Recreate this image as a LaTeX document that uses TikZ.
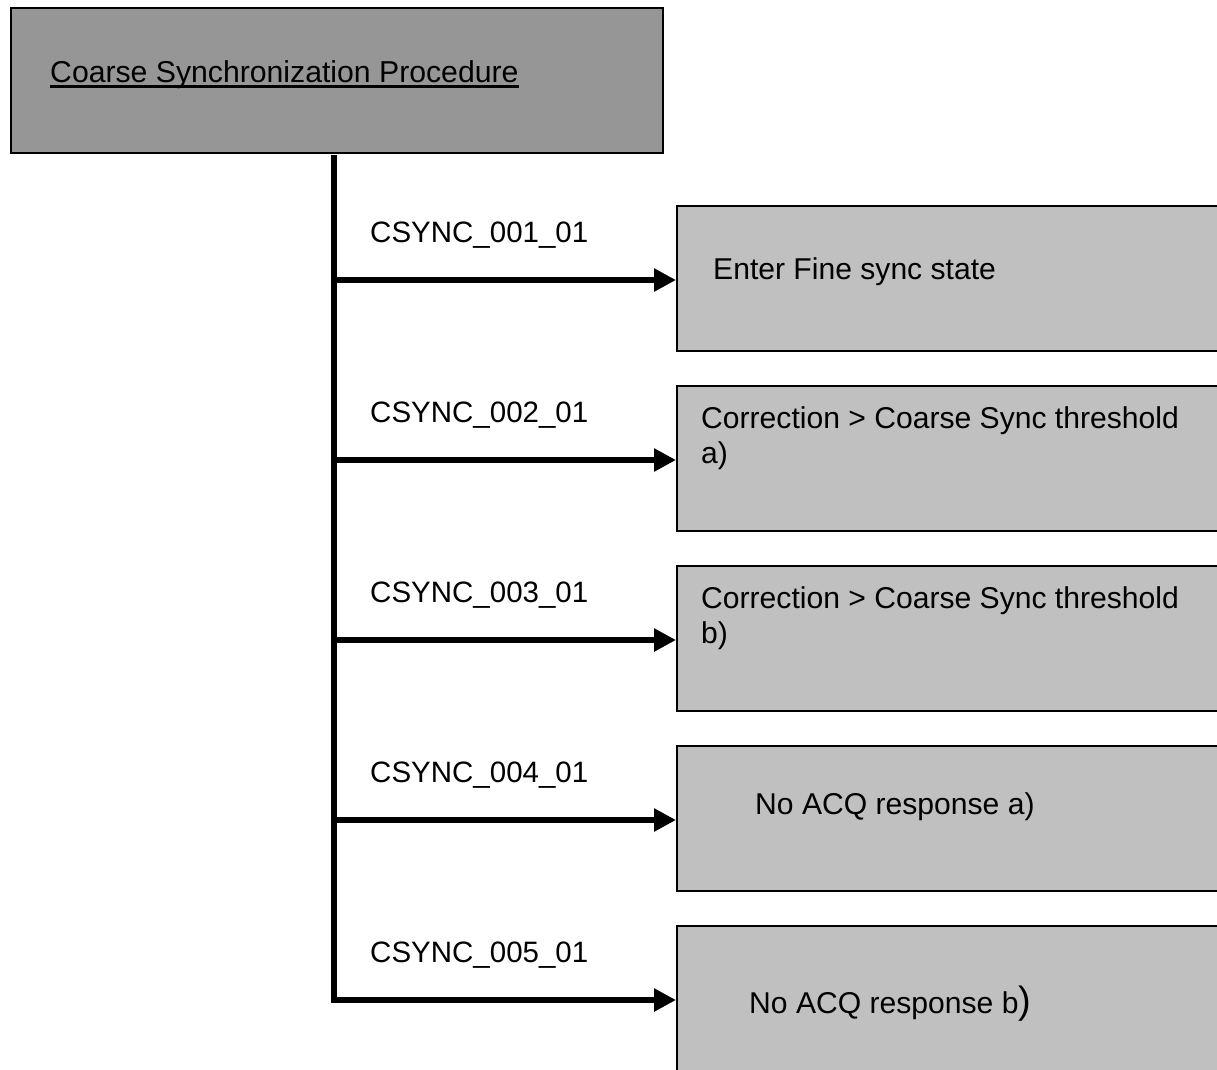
\documentclass[tikz,border=0pt]{standalone}
\usepackage{fontspec}
\setmainfont{Liberation Sans}
\usetikzlibrary{arrows.meta}
\definecolor{topgray}{RGB}{150,150,150}
\definecolor{boxgray}{RGB}{192,192,192}
\begin{document}
\begin{tikzpicture}[x=1pt,y=-1pt,
  topbox/.style={draw=black, line width=1.6pt, fill=topgray, minimum width=652pt, minimum height=145pt, anchor=north west, inner sep=0pt},
  resbox/.style={draw=black, line width=1.6pt, fill=boxgray, minimum width=560pt, minimum height=145pt, anchor=north west, inner sep=0pt},
  txt/.style={font=\fontsize{29.5}{35}\selectfont, anchor=base west, inner sep=0pt, align=left},
  boxtxt/.style={txt, font=\fontsize{30.1}{35}\selectfont},
  bar/.style={line width=6pt},
  arr/.style={line width=6pt, -{Triangle[length=22pt,width=22pt]}}]
\useasboundingbox (0,0) rectangle (1217,1069);
\fill[white] (0,0) rectangle (1217,1069);
% top box
\node[topbox] (top) at (10,7) {};
\node[txt, font=\fontsize{30.2}{35}\selectfont] (toptext) at (50,82) {Coarse Synchronization Procedure};
\draw[line width=2.6pt] ([yshift=-4.5pt]toptext.base west) -- ([yshift=-4.5pt]toptext.base east);
% result boxes
\node[resbox] (r1) at (676,205) {};
\node[resbox] (r2) at (676,385) {};
\node[resbox] (r3) at (676,565) {};
\node[resbox] (r4) at (676,745) {};
\node[resbox] (r5) at (676,925) {};
% box texts
\node[boxtxt] (t1) at (713,279) {Enter Fine sync state};
\node[boxtxt] (t2) at (701,463) {Correction > Coarse Sync threshold\\a)};
\node[boxtxt] (t3) at (701,643) {Correction > Coarse Sync threshold\\b)};
\node[boxtxt] (t4) at (755,814) {No ACQ response a)};
\node[boxtxt] (t5) at (749,1013) {No ACQ response b{\fontsize{38}{40}\selectfont)}};
% labels
\node[txt] (l1) at (370,242) {CSYNC\_001\_01};
\node[txt] (l2) at (370,422) {CSYNC\_002\_01};
\node[txt] (l3) at (370,602) {CSYNC\_003\_01};
\node[txt] (l4) at (370,782) {CSYNC\_004\_01};
\node[txt] (l5) at (370,962) {CSYNC\_005\_01};
% trunk
\coordinate (s) at (334,155);
\coordinate (e) at (334,1003);
\draw[bar] (s) -- (e);
\coordinate (b1) at (334,280);
\coordinate (b2) at (334,460);
\coordinate (b3) at (334,640);
\coordinate (b4) at (334,820);
\coordinate (b5) at (334,1000);
\draw[arr] (b1) -- (b1 -| r1.west);
\draw[arr] (b2) -- (b2 -| r2.west);
\draw[arr] (b3) -- (b3 -| r3.west);
\draw[arr] (b4) -- (b4 -| r4.west);
\draw[arr] (b5) -- (b5 -| r5.west);
\end{tikzpicture}
\end{document}
